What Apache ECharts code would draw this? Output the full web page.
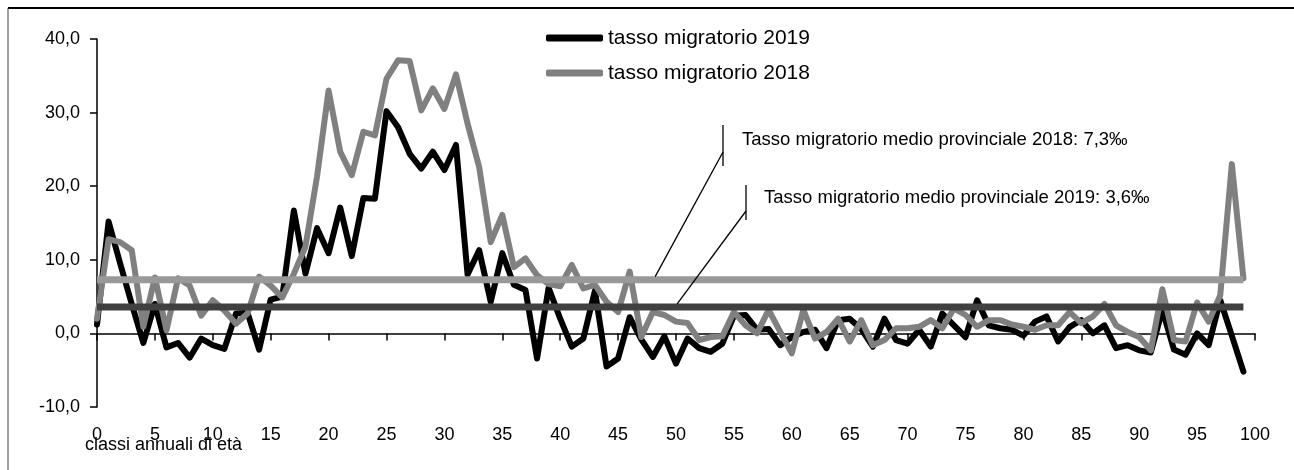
<!DOCTYPE html>
<html>
<head>
<meta charset="utf-8">
<script src="https://cdn.jsdelivr.net/npm/echarts@6/dist/echarts.min.js"></script>
<style>
  html, body { margin: 0; padding: 0; background: #fff; }
  #chart { width: 1294px; height: 470px; }
</style>
</head>
<body>
<div id="chart"></div>
<script>
// Classi annuali di età (0-99)
const ages = Array.from({ length: 100 }, (_, i) => i);

// Tasso migratorio per classe di età, anno 2019 (per mille)
const rate2019 = [
  1.2, 15.2, 9.5, 4.0, -1.3, 4.0, -1.9, -1.3, -3.3, -0.7,
  -1.6, -2.1, 2.7, 2.8, -2.2, 4.6, 5.0, 16.7, 8.1, 14.3,
  10.9, 17.1, 10.5, 18.4, 18.3, 30.2, 28.0, 24.4, 22.4, 24.7,
  22.2, 25.6, 8.0, 11.3, 4.3, 10.9, 6.6, 5.9, -3.4, 6.2,
  2.0, -1.8, -0.7, 5.8, -4.5, -3.4, 2.2, -0.8, -3.2, -0.4,
  -4.1, -0.7, -2.0, -2.5, -1.4, 2.4, 2.5, 0.5, 0.6, -1.6,
  -0.5, 0.2, 0.5, -2.0, 1.8, 2.0, 0.6, -1.8, 2.0, -0.9,
  -1.4, 0.5, -1.8, 2.7, 1.1, -0.5, 4.5, 1.1, 0.7, 0.5,
  -0.3, 1.6, 2.3, -1.1, 0.9, 1.8, 0.0, 1.1, -2.0, -1.6,
  -2.3, -2.6, 3.2, -2.2, -2.9, 0.0, -1.6, 4.5, -0.3, -5.2
];

// Tasso migratorio per classe di età, anno 2018 (per mille)
const rate2018 = [
  2.0, 12.8, 12.4, 11.3, 0.9, 7.6, 0.4, 7.5, 6.5, 2.4,
  4.5, 3.1, 1.3, 2.7, 7.7, 6.5, 4.9, 8.1, 11.8, 21.3,
  33.0, 24.7, 21.5, 27.4, 26.9, 34.6, 37.1, 37.0, 30.3, 33.3,
  30.5, 35.2, 28.5, 22.6, 12.4, 16.1, 9.0, 10.2, 7.9, 6.7,
  6.4, 9.3, 6.1, 6.6, 4.3, 2.9, 8.4, -0.5, 2.9, 2.5,
  1.6, 1.4, -0.9, -0.5, -0.4, 2.9, 1.1, 0.0, 3.2, 0.2,
  -2.7, 3.2, -0.7, 0.2, 2.0, -1.1, 1.8, -1.6, -0.9, 0.7,
  0.7, 0.9, 1.8, 0.7, 3.4, 2.5, 0.9, 1.8, 1.8, 1.2,
  0.9, 0.5, 1.1, 1.1, 2.9, 1.4, 2.3, 4.0, 1.1, 0.2,
  -0.5, -2.3, 6.0, -0.9, -1.1, 4.2, 1.6, 5.2, 23.0, 7.5
];

// Tassi migratori medi provinciali (per mille)
const avg2018 = 7.3;
const avg2019 = 3.6;

const seriesNames = ['tasso migratorio 2019', 'tasso migratorio 2018'];
const avgLabels = [
  'Tasso migratorio medio provinciale 2018: 7,3‰',
  'Tasso migratorio medio provinciale 2019: 3,6‰'
];
const xTitle = 'classi annuali di età';

const FONT = '"Liberation Sans", Arial, sans-serif';

const pairs = (vals) => vals.map((v, i) => [ages[i], v]);
const flat = (v) => [[ages[0], v], [ages[ages.length - 1], v]];

const chart = echarts.init(document.getElementById('chart'), null, { renderer: 'canvas' });

chart.setOption({
  animation: false,
  backgroundColor: '#ffffff',
  textStyle: { fontFamily: FONT, color: '#000' },
  grid: { left: 97, right: 39, top: 39, bottom: 63, containLabel: false },
  legend: {
    data: seriesNames,
    orient: 'vertical',
    left: 546,
    top: 27,
    padding: 0,
    itemWidth: 57,
    itemHeight: 7,
    itemGap: 13,
    icon: 'roundRect',
    selectedMode: false,
    textStyle: { fontFamily: FONT, fontSize: 21, color: '#000', lineHeight: 22 }
  },
  xAxis: [
    {
      type: 'value', min: 0, max: 100, interval: 5,
      axisLine: { show: true, onZero: true, lineStyle: { color: '#000', width: 1.5 } },
      axisTick: { show: true, length: 7, inside: false, lineStyle: { color: '#000', width: 1.5 } },
      axisLabel: { show: false },
      splitLine: { show: false }
    },
    {
      type: 'value', min: 0, max: 100, interval: 5, position: 'bottom',
      axisLine: { show: false, onZero: false },
      axisTick: { show: false },
      axisLabel: { show: true, margin: 19, fontSize: 18, color: '#000', fontFamily: FONT },
      splitLine: { show: false }
    }
  ],
  yAxis: {
    type: 'value', min: -10, max: 40, interval: 10,
    axisLine: { show: true, lineStyle: { color: '#000', width: 1.5 } },
    axisTick: { show: true, length: 7, inside: false, lineStyle: { color: '#000', width: 1.5 } },
    axisLabel: {
      margin: 17, fontSize: 18, color: '#000', fontFamily: FONT,
      formatter: (v) => v.toFixed(1).replace('.', ',')
    },
    splitLine: { show: false }
  },
  series: [
    {
      name: seriesNames[0], type: 'line', xAxisIndex: 0,
      data: pairs(rate2019), showSymbol: false, symbol: 'none',
      color: '#000000',
      lineStyle: { color: '#000000', width: 6, join: 'round', cap: 'round' },
      z: 2
    },
    {
      name: seriesNames[1], type: 'line', xAxisIndex: 0,
      data: pairs(rate2018), showSymbol: false, symbol: 'none',
      color: '#808080',
      lineStyle: { color: '#808080', width: 6, join: 'round', cap: 'round' },
      z: 3
    },
    {
      name: 'medio 2018', type: 'line', xAxisIndex: 0,
      data: flat(avg2018), showSymbol: false, symbol: 'none',
      lineStyle: { color: '#999999', width: 7, cap: 'butt' },
      z: 4
    },
    {
      name: 'medio 2019', type: 'line', xAxisIndex: 0,
      data: flat(avg2019), showSymbol: false, symbol: 'none',
      lineStyle: { color: '#404040', width: 7, cap: 'butt' },
      z: 4
    }
  ]
});

// Callout leaders end on the average lines
const end2018 = chart.convertToPixel({ xAxisIndex: 0, yAxisIndex: 0 }, [48.2, avg2018]);
const end2019 = chart.convertToPixel({ xAxisIndex: 0, yAxisIndex: 0 }, [50.1, avg2019]);

const lineStyle = { stroke: '#000', lineWidth: 1.3 };
const annFont = '18.5px ' + FONT;

chart.setOption({
  graphic: [
    // chart frame
    { type: 'line', shape: { x1: 8, y1: 8, x2: 1294, y2: 8 }, style: { stroke: '#000', lineWidth: 2 }, silent: true },
    { type: 'line', shape: { x1: 8, y1: 8, x2: 8, y2: 470 }, style: { stroke: '#444', lineWidth: 1 }, silent: true },
    // callout 2018
    { type: 'line', shape: { x1: 723, y1: 125, x2: 723, y2: 166 }, style: lineStyle, silent: true, z: 10 },
    { type: 'line', shape: { x1: 723, y1: 152, x2: end2018[0], y2: end2018[1] - 3 }, style: lineStyle, silent: true, z: 10 },
    { type: 'text', x: 742, y: 140, style: { text: avgLabels[0], font: annFont, fill: '#000', textVerticalAlign: 'middle' }, silent: true, z: 10 },
    // callout 2019
    { type: 'line', shape: { x1: 746, y1: 185, x2: 746, y2: 220 }, style: lineStyle, silent: true, z: 10 },
    { type: 'line', shape: { x1: 746, y1: 211, x2: end2019[0], y2: end2019[1] - 3 }, style: lineStyle, silent: true, z: 10 },
    { type: 'text', x: 764, y: 198, style: { text: avgLabels[1], font: annFont, fill: '#000', textVerticalAlign: 'middle' }, silent: true, z: 10 },
    // x axis title
    { type: 'text', x: 85, y: 445, style: { text: xTitle, font: '18px ' + FONT, fill: '#000', textVerticalAlign: 'middle' }, silent: true, z: 10 }
  ]
});
</script>
</body>
</html>
